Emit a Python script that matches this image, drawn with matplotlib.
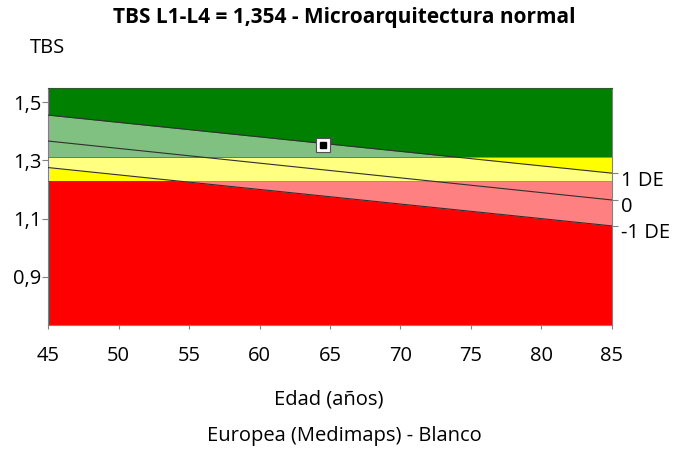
#!/usr/bin/env python3
"""TBS L1-L4 reference chart by age, with patient point."""

import matplotlib

matplotlib.use("Agg")
import matplotlib.pyplot as plt
from matplotlib.patches import Rectangle
from matplotlib.transforms import ScaledTranslation

plt.rcParams["font.family"] = ["Open Sans", "DejaVu Sans"]

AGES = [45, 85]
REF_MEAN = [1.366, 1.164]
REF_PLUS_1SD = [1.455, 1.256]
REF_MINUS_1SD = [1.275, 1.075]
THRESH_LOW = 1.23
THRESH_HIGH = 1.31
PATIENT_AGE = 64.5
PATIENT_TBS = 1.354
Y_TICKS = [0.9, 1.1, 1.3, 1.5]
Y_TICK_LABELS = ["0,9", "1,1", "1,3", "1,5"]
X_TICKS = [45, 50, 55, 60, 65, 70, 75, 80, 85]
SD_LABELS = ["1 DE", "0", "-1 DE"]

Y_MIN, Y_MAX = 0.735, 1.547
W, H = 688, 450
GRAY = "#808080"
FS = 14.5

fig = plt.figure(figsize=(W / 100, H / 100), dpi=100)
ax = fig.add_axes([48.3 / W, 1 - 325 / H, (611.7 - 48.3) / W, (325 - 88.3) / H])
ax.set_xlim(AGES[0], AGES[-1])
ax.set_ylim(Y_MIN, Y_MAX)

zones = [
    (Y_MIN, THRESH_LOW, "#ff0000", "#ff8080"),
    (THRESH_LOW, THRESH_HIGH, "#ffff00", "#ffff80"),
    (THRESH_HIGH, Y_MAX, "#008000", "#80c080"),
]
width = AGES[-1] - AGES[0]
for lo, hi, dark, light in zones:
    ax.axhspan(lo, hi, color=dark, lw=0, zorder=1)
    band = ax.fill_between(AGES, REF_MINUS_1SD, REF_PLUS_1SD, color=light, lw=0, zorder=2)
    band.set_clip_path(Rectangle((AGES[0], lo), width, hi - lo, transform=ax.transData))

for t in (THRESH_LOW, THRESH_HIGH):
    ax.axhline(t, color="#555555", lw=0.7, alpha=0.6, zorder=3)
for series in (REF_PLUS_1SD, REF_MEAN, REF_MINUS_1SD):
    ax.plot(AGES, series, color="#303030", lw=0.8, zorder=4)

ax.plot(PATIENT_AGE, PATIENT_TBS, "s", ms=9.5, mfc="white", mec="#505050", mew=0.8, zorder=5)
ax.plot(PATIENT_AGE, PATIENT_TBS, "s", ms=4, mfc="black", mec="black", zorder=6)

for side in ("left", "bottom", "right", "top"):
    ax.spines[side].set_color(GRAY)
    ax.spines[side].set_linewidth(0.8)
ax.spines["top"].set_color("#2d5a2d")

ax.set_xticks(X_TICKS)
ax.set_yticks(Y_TICKS, Y_TICK_LABELS)
ax.tick_params(axis="x", length=3, width=0.8, color=GRAY, pad=12, labelsize=FS)
ax.tick_params(axis="y", length=4, width=0.8, color=GRAY, pad=1, labelsize=FS)

right = ax.twinx()
right.set_ylim(Y_MIN, Y_MAX)
right.set_yticks([REF_PLUS_1SD[-1], REF_MEAN[-1], REF_MINUS_1SD[-1]], SD_LABELS)
right.tick_params(axis="y", length=4, width=0.8, color=GRAY, pad=3, labelsize=FS)
shift = ScaledTranslation(0, -5 / 100, fig.dpi_scale_trans)
for lab in right.get_yticklabels():
    lab.set_transform(lab.get_transform() + shift)
for side in right.spines:
    right.spines[side].set_visible(False)

fig.text(0.5, 1 - 17 / H, "TBS L1-L4 = 1,354 - Microarquitectura normal",
         ha="center", va="center", fontsize=15, fontweight="bold")
fig.text(30 / W, 1 - 48 / H, "TBS", ha="left", va="center", fontsize=FS)
fig.text(329 / W, 1 - 400 / H, "Edad (años)", ha="center", va="center", fontsize=FS)
fig.text(0.5, 1 - 436 / H, "Europea (Medimaps) - Blanco", ha="center", va="center", fontsize=FS)

fig.savefig("out.png", dpi=100)
